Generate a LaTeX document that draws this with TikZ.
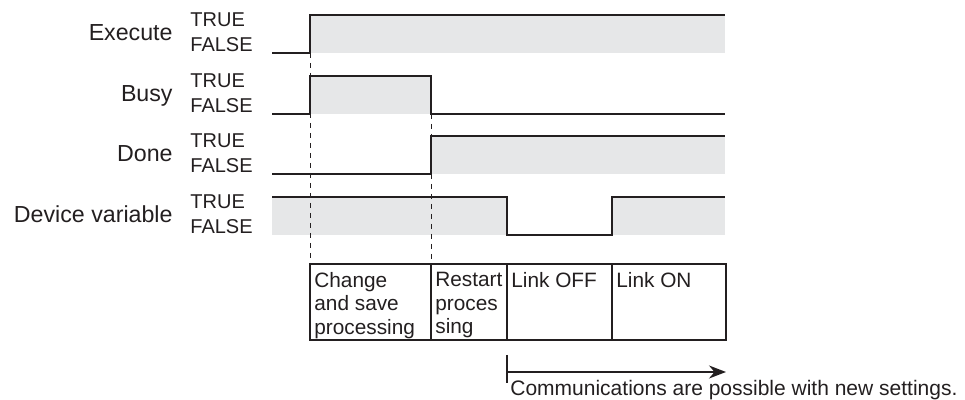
\documentclass[tikz,border=0pt]{standalone}
\usepackage{fontspec}
\setmainfont{Liberation Sans}
\usetikzlibrary{arrows.meta,positioning}

\definecolor{hifill}{RGB}{230,231,232}
\definecolor{ink}{RGB}{35,31,32}

\begin{document}
\begin{tikzpicture}[x=0.5pt, y=-0.5pt, color=ink,
    % --- Text styles ---
    signame/.style={anchor=base east, inner sep=0pt, font=\fontsize{11.6}{13}\selectfont},
    level/.style={anchor=base west, inner sep=0pt, font=\fontsize{10}{12}\selectfont},
    celltext/.style={anchor=north west, align=left, inner xsep=2pt, inner ysep=4pt,
                     font=\fontsize{10.4}{11.75}\selectfont},
    note/.style={anchor=base west, inner sep=0pt, font=\fontsize{10.5}{12}\selectfont},
    % --- Shape styles ---
    cell/.style={draw, line width=0.65pt, outer sep=0pt, inner sep=0pt,
                 minimum height=38pt},
    high/.style={fill=hifill},
    wave/.style={line width=1pt, line join=miter},
    guide/.style={line width=0.5pt, dash pattern=on 2.5pt off 2.5pt},
    span/.style={-{Stealth[length=8.5pt, width=6.5pt]}, line width=0.75pt},
]
\useasboundingbox (0,0) rectangle (965,400);

% === Signal names and levels ===
\foreach \y/\name/\id in {15/Execute/exe, 76/Busy/busy, 136/Done/done, 197/Device variable/dev} {
  \node[signame] (\id) at (173,\y+25.5) {\name};
  \node[level] (\id-t) at (190,\y+11.5) {TRUE};
  \node[level] (\id-f) at (190,\y+37) {FALSE};
}

% === TRUE periods (shaded) ===
\fill[high] (310,15) rectangle (725,53);
\fill[high] (310,76) rectangle (431,114);
\fill[high] (431,136) rectangle (725,174);
\fill[high] (272,197) rectangle (507,235);
\fill[high] (612,197) rectangle (725,235);

% === Step table ===
\node[cell, anchor=north west, minimum width=60.5pt] (c1) at (310,264) {};
\node[cell, right=0pt of c1, minimum width=38pt] (c2) {};
\node[cell, right=0pt of c2, minimum width=52.5pt] (c3) {};
\node[cell, right=0pt of c3, minimum width=57pt] (c4) {};
\node[celltext] (t1) at (c1.north west) {Change\\and save\\processing};
\node[celltext] (t2) at (c2.north west) {Restart\\proces\\sing};
\node[celltext] (t3) at (c3.north west) {Link OFF};
\node[celltext] (t4) at (c4.north west) {Link ON};

% === Edges that start the steps ===
\coordinate (rise) at (310,53);
\coordinate (fall) at (431,114);
\draw[guide] (rise) -- (c1.north west);
\draw[guide] (fall) -- (c2.north west);

% === Waveforms ===
\draw[wave] (272,53) -- (310,53) -- (310,15) -- (725,15);
\draw[wave] (272,114) -- (310,114) -- (310,76) -- (431,76) -- (431,114) -- (725,114);
\draw[wave] (272,174) -- (431,174) -- (431,136) -- (725,136);
\draw[wave] (272,197) -- (507,197) -- (507,235) -- (612,235) -- (612,197) -- (725,197);

% === Communications span ===
\coordinate (tick top) at (507,355);
\coordinate (tick bot) at (507,383);
\coordinate (comm start) at (507,372);
\coordinate (comm end) at (726,372);
\draw[line width=0.75pt] (tick top) -- (tick bot);
\draw[span] (comm start) -- (comm end);
\node[note] (comm) at (510,396) {Communications are possible with new settings.};

\end{tikzpicture}
\end{document}
